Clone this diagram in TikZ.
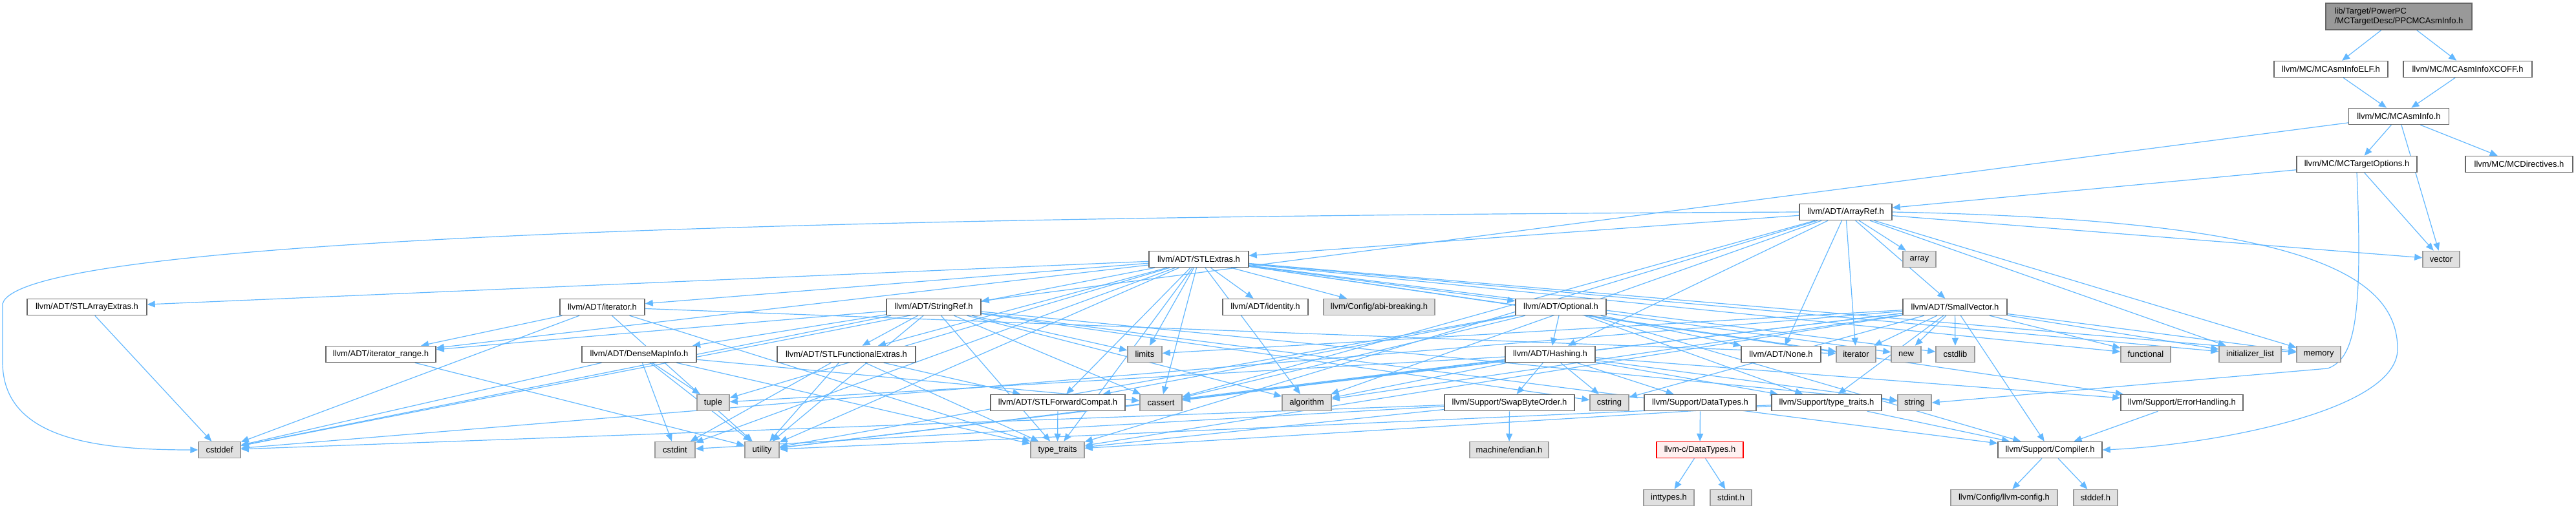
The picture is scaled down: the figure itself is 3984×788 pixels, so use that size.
\documentclass[tikz,border=0pt]{standalone}
\usepackage{fontspec}
\setmainfont{Liberation Sans}
\usetikzlibrary{arrows.meta}
\pgfdeclarelayer{background}
\pgfsetlayers{background,main}
\definecolor{edgeblue}{HTML}{63B8FF}
\definecolor{boxline}{HTML}{666666}
\definecolor{sysline}{HTML}{999999}
\definecolor{sysfill}{HTML}{E0E0E0}
\definecolor{mainfill}{HTML}{999999}
\definecolor{redfill}{HTML}{FFF0F0}
\tikzset{
  box/.style={draw=boxline,fill=white,line width=1.5pt,minimum height=25pt,inner sep=0pt,font=\fontsize{13}{15}\selectfont},
  sysbox/.style={box,draw=sysline,fill=sysfill},
  mainbox/.style={box,fill=mainfill},
  redbox/.style={box,draw=red,fill=redfill},
  edge/.style={draw=edgeblue,line width=1.2pt,-{Triangle[length=12pt,width=10pt]}}
}
\begin{document}
\begin{tikzpicture}[x=1pt,y=-1pt]
        \useasboundingbox (0,0) rectangle (3984,788);
        \node[mainbox,minimum width=226pt,minimum height=41pt,align=left] (ppc) at (3710,25.5) {lib/Target/PowerPC\\/MCTargetDesc/PPCMCAsmInfo.h};
        \node[box,minimum width=176pt] (elf) at (3605,107) {llvm/MC/MCAsmInfoELF.h};
        \node[box,minimum width=199pt] (xcoff) at (3816.5,107) {llvm/MC/MCAsmInfoXCOFF.h};
        \node[box,minimum width=155pt] (mcasminfo) at (3710,180) {llvm/MC/MCAsmInfo.h};
        \node[box,minimum width=186pt] (mctargetopts) at (3645,254) {llvm/MC/MCTargetOptions.h};
        \node[box,minimum width=166pt] (mcdirectives) at (3896,254) {llvm/MC/MCDirectives.h};
        \node[box,minimum width=143pt] (arrayref) at (2854.5,328) {llvm/ADT/ArrayRef.h};
        \node[box,minimum width=154pt] (stlextras) at (1854,401) {llvm/ADT/STLExtras.h};
        \node[sysbox,minimum width=51pt] (array) at (2968.5,401) {array};
        \node[sysbox,minimum width=57pt] (vector) at (3775.5,401) {vector};
        \node[box,minimum width=185pt] (stlarrayextras) at (134.5,475) {llvm/ADT/STLArrayExtras.h};
        \node[box,minimum width=131pt] (iteratorh) at (931.5,475) {llvm/ADT/iterator.h};
        \node[box,minimum width=146pt] (stringref) at (1444,475) {llvm/ADT/StringRef.h};
        \node[box,minimum width=132pt] (identity) at (1957,475) {llvm/ADT/identity.h};
        \node[sysbox,minimum width=172pt] (abibreaking) at (2133,475) {llvm/Config/abi-breaking.h};
        \node[box,minimum width=140pt] (optional) at (2414,475) {llvm/ADT/Optional.h};
        \node[box,minimum width=161pt] (smallvector) at (3023.5,475) {llvm/ADT/SmallVector.h};
        \node[box,minimum width=170pt] (iterrange) at (589,548) {llvm/ADT/iterator\_range.h};
        \node[box,minimum width=177pt] (densemapinfo) at (988.5,548) {llvm/ADT/DenseMapInfo.h};
        \node[box,minimum width=214pt] (stlfunc) at (1309,548) {llvm/ADT/STLFunctionalExtras.h};
        \node[sysbox,minimum width=53pt] (limits) at (1770.5,548) {limits};
        \node[box,minimum width=139pt] (hashing) at (2397.5,548) {llvm/ADT/Hashing.h};
        \node[box,minimum width=123pt] (none) at (2754.5,548) {llvm/ADT/None.h};
        \node[sysbox,minimum width=61pt] (iterator) at (2870.5,548) {iterator};
        \node[sysbox,minimum width=46pt] (newh) at (2948,548) {new};
        \node[sysbox,minimum width=60pt] (cstdlib) at (3024,548) {cstdlib};
        \node[sysbox,minimum width=77pt] (functional) at (3318.5,548) {functional};
        \node[sysbox,minimum width=96pt] (initlist) at (3480,548) {initializer\_list};
        \node[sysbox,minimum width=68pt] (memory) at (3586,548) {memory};
        \node[sysbox,minimum width=50pt] (tuple) at (1103,623) {tuple};
        \node[box,minimum width=208pt] (stlfwd) at (1636,623) {llvm/ADT/STLForwardCompat.h};
        \node[sysbox,minimum width=65pt] (cassert) at (1795.5,623) {cassert};
        \node[sysbox,minimum width=76pt] (algorithm) at (2021,623) {algorithm};
        \node[box,minimum width=201pt] (swapbyte) at (2334.5,623) {llvm/Support/SwapByteOrder.h};
        \node[sysbox,minimum width=60pt] (cstring) at (2489,623) {cstring};
        \node[box,minimum width=173pt] (datatypes) at (2629.5,623) {llvm/Support/DataTypes.h};
        \node[box,minimum width=170pt] (supptraits) at (2825,623) {llvm/Support/type\_traits.h};
        \node[sysbox,minimum width=52pt] (string) at (2961,623) {string};
        \node[box,minimum width=189pt] (errorhandling) at (3374.5,623) {llvm/Support/ErrorHandling.h};
        \node[sysbox,minimum width=65pt] (cstddef) at (339.5,696) {cstddef};
        \node[sysbox,minimum width=62pt] (cstdint) at (1044,696) {cstdint};
        \node[sysbox,minimum width=53pt] (utility) at (1178.5,696) {utility};
        \node[sysbox,minimum width=83pt] (typetraits) at (1635.5,696) {type\_traits};
        \node[sysbox,minimum width=122pt] (endian) at (2334,696) {machine/endian.h};
        \node[redbox,minimum width=134pt] (cdatatypes) at (2629,696) {llvm-c/DataTypes.h};
        \node[box,minimum width=161pt] (compiler) at (3170.5,696) {llvm/Support/Compiler.h};
        \node[sysbox,minimum width=78pt] (inttypes) at (2581,770) {inttypes.h};
        \node[sysbox,minimum width=64pt] (stdint) at (2677,770) {stdint.h};
        \node[sysbox,minimum width=165pt] (llvmconfig) at (3099.5,770) {llvm/Config/llvm-config.h};
        \node[sysbox,minimum width=68pt] (stddef) at (3241,770) {stddef.h};

        \begin{pgfonlayer}{background}
        \draw[edge] (ppc) -- (elf); \draw[edge] (ppc) -- (xcoff);
        \draw[edge] (elf) -- (mcasminfo); \draw[edge] (xcoff) -- (mcasminfo);
        \draw[edge] (mcasminfo) -- (stringref); \draw[edge] (mcasminfo) -- (mctargetopts);
        \draw[edge] (mcasminfo) -- (mcdirectives); \draw[edge] (mcasminfo) -- (vector);
        \draw[edge] (mctargetopts) -- (arrayref); \draw[edge] (mctargetopts) -- (vector);
        \draw[edge] (mctargetopts.south) .. controls (3655,500) and (3640,555) .. (3600,570) -- (string.east);

        \draw[edge] (arrayref) -- (hashing); \draw[edge] (arrayref) -- (none);
        \draw[edge] (arrayref) -- (stlextras); \draw[edge] (arrayref) -- (smallvector);
        \draw[edge] (arrayref.east) .. controls (3550,340) and (3708,420) .. (3708,540) .. controls (3708,640) and (3400,690) .. (compiler.east);
        \draw[edge] (arrayref) -- (algorithm);
        \draw[edge] (arrayref) -- (array); \draw[edge] (arrayref) -- (cassert);
        \draw[edge] (arrayref.west) .. controls (1200,335) and (30,370) .. (4,470) -- (4,560) .. controls (4,680) and (150,696) .. (cstddef.west);
        \draw[edge] (arrayref) -- (initlist);
        \draw[edge] (arrayref) -- (iterator); \draw[edge] (arrayref) -- (memory);
        \draw[edge] (arrayref) -- (typetraits); \draw[edge] (arrayref) -- (vector);

        \draw[edge] (stlextras) -- (optional); \draw[edge] (stlextras) -- (stlarrayextras);
        \draw[edge] (stlextras) -- (stlfwd); \draw[edge] (stlextras) -- (stlfunc);
        \draw[edge] (stlextras) -- (identity); \draw[edge] (stlextras) -- (iteratorh);
        \draw[edge] (stlextras) -- (iterrange); \draw[edge] (stlextras) -- (abibreaking);
        \draw[edge] (stlextras) -- (errorhandling); \draw[edge] (stlextras) -- (algorithm);
        \draw[edge] (stlextras) -- (cassert); \draw[edge] (stlextras) -- (cstddef);
        \draw[edge] (stlextras) -- (cstdint); \draw[edge] (stlextras) -- (cstdlib);
        \draw[edge] (stlextras) -- (functional); \draw[edge] (stlextras) -- (initlist);
        \draw[edge] (stlextras) -- (iterator); \draw[edge] (stlextras) -- (limits);
        \draw[edge] (stlextras) -- (memory); \draw[edge] (stlextras) -- (tuple);
        \draw[edge] (stlextras) -- (typetraits); \draw[edge] (stlextras) -- (utility);

        \draw[edge] (stlarrayextras) -- (cstddef);
        \draw[edge] (iteratorh) -- (iterrange); \draw[edge] (iteratorh) -- (cstddef);
        \draw[edge] (iteratorh) -- (iterator); \draw[edge] (iteratorh) -- (typetraits);
        \draw[edge] (iteratorh) -- (utility);
        \draw[edge] (iterrange) -- (utility);

        \draw[edge] (stringref) -- (densemapinfo); \draw[edge] (stringref) -- (stlfunc);
        \draw[edge] (stringref) -- (iterrange); \draw[edge] (stringref) -- (compiler);
        \draw[edge] (stringref) -- (algorithm); \draw[edge] (stringref) -- (cassert);
        \draw[edge] (stringref) -- (cstddef); \draw[edge] (stringref) -- (cstring);
        \draw[edge] (stringref) -- (limits); \draw[edge] (stringref) -- (string);
        \draw[edge] (stringref) -- (typetraits); \draw[edge] (stringref) -- (utility);

        \draw[edge] (densemapinfo) -- (cassert); \draw[edge] (densemapinfo) -- (cstddef);
        \draw[edge] (densemapinfo) -- (cstdint); \draw[edge] (densemapinfo) -- (tuple);
        \draw[edge] (densemapinfo) -- (typetraits); \draw[edge] (densemapinfo) -- (utility);
        \draw[edge] (stlfunc) -- (stlfwd); \draw[edge] (stlfunc) -- (cstdint);
        \draw[edge] (stlfunc) -- (typetraits); \draw[edge] (stlfunc) -- (utility);
        \draw[edge] (stlfwd) -- (typetraits);

        \draw[edge] (optional) -- (hashing); \draw[edge] (optional) -- (none);
        \draw[edge] (optional) -- (stlfwd); \draw[edge] (optional) -- (compiler);
        \draw[edge] (optional) -- (supptraits); \draw[edge] (optional) -- (cassert);
        \draw[edge] (optional) -- (newh); \draw[edge] (optional) -- (utility);

        \draw[edge] (smallvector) -- (compiler); \draw[edge] (smallvector) -- (supptraits);
        \draw[edge] (smallvector) -- (algorithm); \draw[edge] (smallvector) -- (cassert);
        \draw[edge] (smallvector) -- (cstddef); \draw[edge] (smallvector) -- (cstdlib);
        \draw[edge] (smallvector) -- (cstring); \draw[edge] (smallvector) -- (functional);
        \draw[edge] (smallvector) -- (initlist); \draw[edge] (smallvector) -- (iterator);
        \draw[edge] (smallvector) -- (limits); \draw[edge] (smallvector) -- (memory);
        \draw[edge] (smallvector) -- (newh); \draw[edge] (smallvector) -- (typetraits);
        \draw[edge] (smallvector) -- (utility);

        \draw[edge] (hashing) -- (datatypes); \draw[edge] (hashing) -- (errorhandling);
        \draw[edge] (hashing) -- (swapbyte); \draw[edge] (hashing) -- (supptraits);
        \draw[edge] (hashing) -- (algorithm); \draw[edge] (hashing) -- (cassert);
        \draw[edge] (hashing) -- (cstring); \draw[edge] (hashing) -- (string);
        \draw[edge] (hashing) -- (tuple); \draw[edge] (hashing) -- (utility);

        \draw[edge] (swapbyte) -- (cstddef); \draw[edge] (swapbyte) -- (cstdint);
        \draw[edge] (swapbyte) -- (typetraits); \draw[edge] (swapbyte) -- (endian);
        \draw[edge] (datatypes) -- (cdatatypes);
        \draw[edge] (cdatatypes) -- (inttypes); \draw[edge] (cdatatypes) -- (stdint);
        \draw[edge] (supptraits) -- (compiler); \draw[edge] (supptraits) -- (typetraits);
        \draw[edge] (supptraits) -- (utility);
        \draw[edge] (errorhandling) -- (compiler);
        \draw[edge] (compiler) -- (llvmconfig); \draw[edge] (compiler) -- (stddef);
        \end{pgfonlayer}
    \end{tikzpicture}
\end{document}
